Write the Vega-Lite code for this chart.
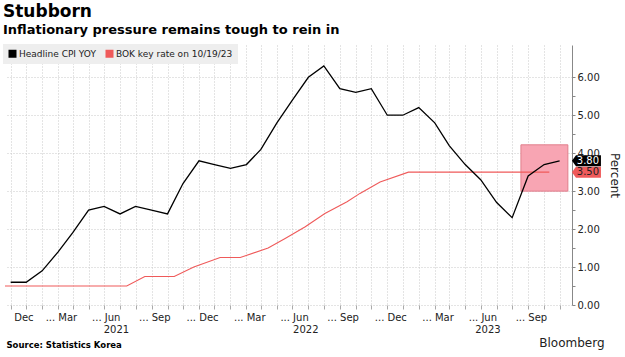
{
  "$schema": "https://vega.github.io/schema/vega-lite/v6.json",
  "autosize": "none",
  "width": 567,
  "height": 260,
  "padding": {"left": 5, "top": 45, "right": 53, "bottom": 52},
  "background": "white",
  "title": {
    "text": "Stubborn",
    "subtitle": "Inflationary pressure remains tough to rein in",
    "anchor": "start",
    "frame": "group",
    "dx": -2,
    "offset": 6,
    "font": "DejaVu Sans",
    "fontSize": 17,
    "fontWeight": "bold",
    "color": "#000000",
    "subtitleFont": "DejaVu Sans",
    "subtitleFontSize": 13,
    "subtitleFontWeight": "bold",
    "subtitleColor": "#000000",
    "subtitlePadding": 3
  },
  "datasets": {
    "lines": [
      {"series": "BOK key rate on 10/19/23", "date": "2020-10-21", "value": 0.5},
      {"series": "BOK key rate on 10/19/23", "date": "2021-06-14", "value": 0.5},
      {"series": "BOK key rate on 10/19/23", "date": "2021-07-19", "value": 0.75},
      {"series": "BOK key rate on 10/19/23", "date": "2021-09-14", "value": 0.75},
      {"series": "BOK key rate on 10/19/23", "date": "2021-10-22", "value": 1.0},
      {"series": "BOK key rate on 10/19/23", "date": "2021-12-12", "value": 1.25},
      {"series": "BOK key rate on 10/19/23", "date": "2022-01-20", "value": 1.25},
      {"series": "BOK key rate on 10/19/23", "date": "2022-03-15", "value": 1.5},
      {"series": "BOK key rate on 10/19/23", "date": "2022-04-17", "value": 1.75},
      {"series": "BOK key rate on 10/19/23", "date": "2022-05-26", "value": 2.06},
      {"series": "BOK key rate on 10/19/23", "date": "2022-07-03", "value": 2.41},
      {"series": "BOK key rate on 10/19/23", "date": "2022-08-15", "value": 2.72},
      {"series": "BOK key rate on 10/19/23", "date": "2022-09-09", "value": 2.94},
      {"series": "BOK key rate on 10/19/23", "date": "2022-10-18", "value": 3.24},
      {"series": "BOK key rate on 10/19/23", "date": "2022-12-12", "value": 3.5},
      {"series": "BOK key rate on 10/19/23", "date": "2023-09-11", "value": 3.5},
      {"series": "Headline CPI YOY", "date": "2020-11-01", "value": 0.6},
      {"series": "Headline CPI YOY", "date": "2020-12-01", "value": 0.6},
      {"series": "Headline CPI YOY", "date": "2021-01-01", "value": 0.9},
      {"series": "Headline CPI YOY", "date": "2021-02-01", "value": 1.4},
      {"series": "Headline CPI YOY", "date": "2021-03-01", "value": 1.9},
      {"series": "Headline CPI YOY", "date": "2021-04-01", "value": 2.5},
      {"series": "Headline CPI YOY", "date": "2021-05-01", "value": 2.6},
      {"series": "Headline CPI YOY", "date": "2021-06-01", "value": 2.4},
      {"series": "Headline CPI YOY", "date": "2021-07-01", "value": 2.6},
      {"series": "Headline CPI YOY", "date": "2021-08-01", "value": 2.5},
      {"series": "Headline CPI YOY", "date": "2021-09-01", "value": 2.4},
      {"series": "Headline CPI YOY", "date": "2021-10-01", "value": 3.2},
      {"series": "Headline CPI YOY", "date": "2021-11-01", "value": 3.8},
      {"series": "Headline CPI YOY", "date": "2021-12-01", "value": 3.7},
      {"series": "Headline CPI YOY", "date": "2022-01-01", "value": 3.6},
      {"series": "Headline CPI YOY", "date": "2022-02-01", "value": 3.7},
      {"series": "Headline CPI YOY", "date": "2022-03-01", "value": 4.1},
      {"series": "Headline CPI YOY", "date": "2022-04-01", "value": 4.8},
      {"series": "Headline CPI YOY", "date": "2022-05-01", "value": 5.4},
      {"series": "Headline CPI YOY", "date": "2022-06-01", "value": 6.0},
      {"series": "Headline CPI YOY", "date": "2022-07-01", "value": 6.3},
      {"series": "Headline CPI YOY", "date": "2022-08-01", "value": 5.7},
      {"series": "Headline CPI YOY", "date": "2022-09-01", "value": 5.6},
      {"series": "Headline CPI YOY", "date": "2022-10-01", "value": 5.7},
      {"series": "Headline CPI YOY", "date": "2022-11-01", "value": 5.0},
      {"series": "Headline CPI YOY", "date": "2022-12-01", "value": 5.0},
      {"series": "Headline CPI YOY", "date": "2023-01-01", "value": 5.2},
      {"series": "Headline CPI YOY", "date": "2023-02-01", "value": 4.8},
      {"series": "Headline CPI YOY", "date": "2023-03-01", "value": 4.2},
      {"series": "Headline CPI YOY", "date": "2023-04-01", "value": 3.7},
      {"series": "Headline CPI YOY", "date": "2023-05-01", "value": 3.3},
      {"series": "Headline CPI YOY", "date": "2023-06-01", "value": 2.7},
      {"series": "Headline CPI YOY", "date": "2023-07-01", "value": 2.3},
      {"series": "Headline CPI YOY", "date": "2023-08-01", "value": 3.4},
      {"series": "Headline CPI YOY", "date": "2023-09-01", "value": 3.7},
      {"series": "Headline CPI YOY", "date": "2023-10-01", "value": 3.8}
    ],
    "box": [
      {"start": "2023-07-18", "end": "2023-10-17", "value": 3.0, "hi": 4.22}
    ],
    "tags": [
      {"series": "BOK key rate on 10/19/23", "value": 3.5, "label": "3.50"},
      {"series": "Headline CPI YOY", "value": 3.8, "label": "3.80"}
    ]
  },
  "encoding": {
    "y": {
      "field": "value",
      "type": "quantitative",
      "scale": {"domain": [0, 6.85], "nice": false, "zero": false},
      "axis": {
        "orient": "right",
        "values": [0, 0.5, 1, 1.5, 2, 2.5, 3, 3.5, 4, 4.5, 5, 5.5, 6],
        "labelExpr": "datum.value % 1 === 0 ? format(datum.value, '.2f') : ''",
        "labelFont": "DejaVu Sans",
        "labelFontSize": 10,
        "labelColor": "#222222",
        "labelPadding": 2,
        "labelOverlap": false,
        "tickSize": 3,
        "tickColor": "#888888",
        "domainColor": "#888888",
        "grid": true,
        "gridColor": "#c8c8c8",
        "gridDash": [1, 2],
        "gridOpacity": {"condition": {"test": "datum.value % 1 === 0", "value": 1}, "value": 0},
        "title": "Percent",
        "titleFont": "DejaVu Sans",
        "titleFontSize": 12,
        "titleFontWeight": "normal",
        "titleColor": "#222222",
        "titleAngle": 90,
        "titleX": 42,
        "titleY": 130,
        "titleAlign": "center",
        "titleBaseline": "middle"
      }
    }
  },
  "layer": [
    {
      "data": {"name": "box"},
      "mark": {"type": "rect", "fill": "#f8a5b3", "stroke": "#e07f8c", "strokeWidth": 1},
      "encoding": {
        "x": {
          "field": "start",
          "type": "temporal",
          "scale": {"type": "utc", "nice": false, "domain": [{"year": 2020, "month": 10, "date": 21, "utc": true}, {"year": 2023, "month": 10, "date": 25, "utc": true}]},
          "axis": {
            "orient": "bottom",
            "values": [{"year": 2021, "month": 5, "date": 24, "utc": true}, {"year": 2022, "month": 5, "date": 26, "utc": true}, {"year": 2023, "month": 5, "date": 14, "utc": true}],
            "labelExpr": "'' + utcyear(datum.value)",
            "labelFont": "DejaVu Sans",
            "labelFontSize": 10,
            "labelColor": "#222222",
            "labelAlign": "center",
            "labelBaseline": "top",
            "labelPadding": 19,
            "labelFlush": false,
            "labelOverlap": false,
            "ticks": false,
            "domain": false,
            "grid": false,
            "title": "Bloomberg",
            "titleFont": "DejaVu Sans",
            "titleFontSize": 12,
            "titleFontWeight": "normal",
            "titleColor": "#222222",
            "titleX": 599,
            "titleY": 41,
            "titleAlign": "right",
            "titleBaseline": "alphabetic"
          }
        },
        "x2": {"field": "end"},
        "y2": {"field": "hi"}
      }
    },
    {
      "data": {"name": "lines"},
      "mark": {"type": "line", "interpolate": "linear"},
      "encoding": {
        "x": {
          "field": "date",
          "type": "temporal",
          "scale": {"type": "utc", "nice": false, "domain": [{"year": 2020, "month": 10, "date": 21, "utc": true}, {"year": 2023, "month": 10, "date": 25, "utc": true}]},
          "axis": {
            "orient": "bottom",
            "tickCount": {"interval": "month", "step": 1},
            "labelExpr": "utcmonth(datum.value) == 10 && utcyear(datum.value) == 2020 ? 'Dec' : utcmonth(datum.value) == 0 ? '... Mar' : utcmonth(datum.value) == 3 ? '... Jun' : utcmonth(datum.value) == 6 ? '... Sep' : (utcmonth(datum.value) == 9 && utcyear(datum.value) < 2023) ? '... Dec' : ''",
            "labelFont": "DejaVu Sans",
            "labelFontSize": 10,
            "labelColor": "#222222",
            "labelAlign": "left",
            "labelBaseline": "top",
            "labelOffset": 3,
            "labelPadding": 3,
            "labelFlush": false,
            "labelOverlap": false,
            "labelBound": false,
            "domain": false,
            "ticks": true,
            "tickSize": 4,
            "tickColor": "#aaaaaa",
            "grid": true,
            "gridColor": "#c8c8c8",
            "gridDash": [1, 2],
            "title": "Source: Statistics Korea",
            "titleFont": "DejaVu Sans",
            "titleFontSize": 8.5,
            "titleFontWeight": "bold",
            "titleColor": "#000000",
            "titleX": 1,
            "titleY": 42,
            "titleAlign": "left",
            "titleBaseline": "alphabetic"
          }
        },
        "color": {
          "field": "series",
          "type": "nominal",
          "scale": {"domain": ["Headline CPI YOY", "BOK key rate on 10/19/23"], "range": ["#000000", "#ef5a5a"]},
          "legend": {
            "title": null,
            "orient": "none",
            "legendX": -2,
            "legendY": -1,
            "direction": "horizontal",
            "fillColor": "#eeeeee",
            "padding": 5,
            "symbolType": "square",
            "symbolSize": 64,
            "symbolOffset": 0,
            "labelFont": "DejaVu Sans",
            "labelFontSize": 9,
            "labelColor": "#222222",
            "labelOffset": 2,
            "columnPadding": 9,
            "encode": {"symbols": {"update": {"fill": {"scale": "color", "field": "value"}, "strokeWidth": {"value": 0}}}}
          }
        },
        "strokeWidth": {"condition": {"test": "datum.series === 'Headline CPI YOY'", "value": 1.3}, "value": 1.1}
      }
    },
    {
      "data": {"name": "tags"},
      "mark": {"type": "point", "shape": "M-1,0L-0.72,-0.38L1,-0.38L1,0.38L-0.72,0.38Z", "filled": true, "size": 841, "opacity": 1, "strokeWidth": 0},
      "encoding": {
        "x": {"datum": {"year": 2023, "month": 11, "date": 22, "utc": true}, "type": "temporal", "axis": null},
        "fill": {"condition": {"test": "datum.series === 'Headline CPI YOY'", "value": "#000000"}, "value": "#ef5a5a"}
      }
    },
    {
      "data": {"name": "tags"},
      "mark": {"type": "text", "dx": 1.5, "font": "DejaVu Sans", "fontSize": 10, "align": "center", "baseline": "middle"},
      "encoding": {
        "x": {"datum": {"year": 2023, "month": 11, "date": 22, "utc": true}, "type": "temporal", "axis": null},
        "text": {"field": "label"},
        "color": {"condition": {"test": "datum.series === 'Headline CPI YOY'", "value": "#ffffff"}, "value": "#222222"}
      }
    }
  ],
  "resolve": {"axis": {"x": "independent"}},
  "config": {"view": {"stroke": null}}
}
